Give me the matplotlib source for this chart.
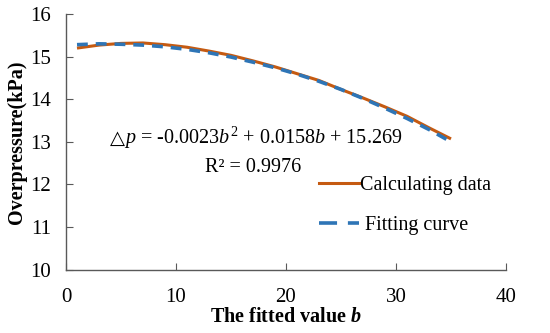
import matplotlib
matplotlib.use('Agg')
import matplotlib.pyplot as plt
from matplotlib.lines import Line2D

plt.rcParams['font.family'] = ['Liberation Serif', 'DejaVu Sans']
plt.rcParams['mathtext.fontset'] = 'custom'
plt.rcParams['mathtext.rm'] = 'Liberation Serif'
plt.rcParams['mathtext.it'] = 'Liberation Serif:italic'
plt.rcParams['mathtext.bf'] = 'Liberation Serif:bold:italic'

# values
b_vals = [1, 3, 5, 7, 9, 11, 13, 15, 17, 19, 21, 23, 25, 27, 29, 31, 33, 35]
calc_data = [15.20, 15.27, 15.31, 15.32, 15.28, 15.22, 15.13, 15.03, 14.90,
             14.76, 14.60, 14.44, 14.23, 14.03, 13.82, 13.60, 13.33, 13.07]
fit_data = [15.28, 15.30, 15.29, 15.27, 15.23, 15.17, 15.09, 14.99, 14.87,
            14.74, 14.59, 14.42, 14.23, 14.02, 13.79, 13.55, 13.29, 13.00]

x_ticks = [0, 10, 20, 30, 40]
y_ticks = [10, 11, 12, 13, 14, 15, 16]

orange = '#C55A11'
blue = '#2E75B6'

fig = plt.figure(figsize=(5.5, 3.33), dpi=100)
ax = fig.add_axes([0.12, 0.19, 0.80, 0.768])

ax.plot(b_vals, calc_data, color=orange, lw=2.2, solid_capstyle='butt')
ax.plot(b_vals, fit_data, color=blue, lw=2.6, ls=(0, (3, 2.2)))

ax.set_xlim(0, 40)
ax.set_ylim(10, 16)
ax.set_xticks(x_ticks)
ax.set_yticks(y_ticks)
ax.tick_params(direction='in', length=5, color='#595959', labelsize=15)
ax.tick_params(axis='y', pad=11)
ax.tick_params(axis='x', pad=13)
for s in ['top', 'right']:
    ax.spines[s].set_visible(False)
for s in ['left', 'bottom']:
    ax.spines[s].set_color('#595959')
    ax.spines[s].set_linewidth(1.0)

ax.set_xlabel(r'The fitted value $\mathbf{b}$', fontsize=14.5, fontweight='bold', labelpad=0)
ax.set_ylabel('Overpressure(kPa)', fontsize=14.5, fontweight='bold', labelpad=2)

fig.text(0.2, 1 - 138 / 333, '△', fontsize=14, family='DejaVu Sans', va='center')
fig.text(0.226, 1 - 138 / 333, r'$p$ = -0.0023$b^2$ + 0.0158$b$ + 15.269',
         fontsize=14.5, va='center')
fig.text(0.373, 1 - 168 / 333, 'R² = 0.9976', fontsize=14.5, va='center')

handles = [Line2D([], [], color=orange, lw=2.2),
           Line2D([], [], color=blue, lw=2.6, ls=(0, (5, 3)))]
fig.legend(handles, ['Calculating data', ' Fitting curve'], loc='upper left',
           bbox_to_anchor=(0.547, 1 - 158 / 333), frameon=False, fontsize=14.5,
           handlelength=2.0, handletextpad=0.05, labelspacing=1.05)

fig.savefig('out.png', dpi=100)
